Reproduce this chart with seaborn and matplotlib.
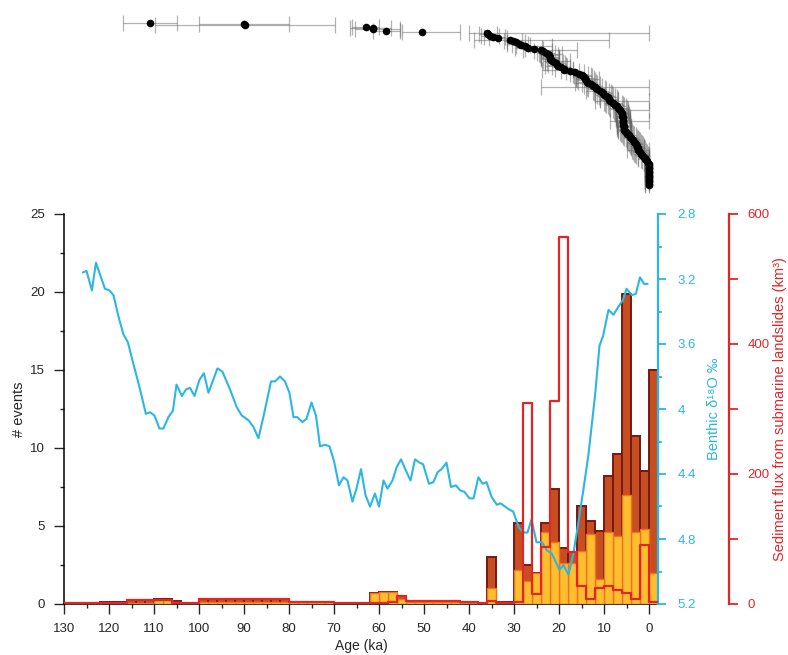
import numpy as np
import matplotlib
matplotlib.use("Agg")
import matplotlib.pyplot as plt
from matplotlib.ticker import MultipleLocator
import seaborn as sns

# ---------------- data ----------------
# 2-ka bins (centre age, ka)
bin_center = [129, 127, 125, 123, 121, 119, 117, 115, 113, 111,
              109, 107, 105, 103, 101, 99, 97, 95, 93, 91,
              89, 87, 85, 83, 81, 79, 77, 75, 73, 71,
              69, 67, 65, 63, 61, 59, 57, 55, 53, 51,
              49, 47, 45, 43, 41, 39, 37, 35, 33, 31,
              29, 27, 25, 23, 21, 19, 17, 15, 13, 11,
              9, 7, 5, 3, 1, -1]

# total number of events per bin
events_total = [0.05, 0.05, 0.05, 0.05, 0.1, 0.1, 0.15, 0.25, 0.25, 0.25,
                0.3, 0.3, 0.2, 0.05, 0.05, 0.3, 0.3, 0.3, 0.3, 0.3,
                0.3, 0.3, 0.3, 0.3, 0.3, 0.15, 0.15, 0.15, 0.15, 0.15,
                0.05, 0.05, 0.05, 0.05, 0.7, 0.75, 0.8, 0.5, 0.15, 0.15,
                0.15, 0.15, 0.15, 0.15, 0.1, 0.1, 0.05, 3.0, 0.15, 0.1,
                5.2, 2.5, 2.0, 5.2, 7.4, 3.6, 3.35, 6.3, 5.3, 4.7,
                8.2, 9.6, 19.9, 10.8, 8.5, 15.0]

# subset of events (yellow)
events_sub = [0.03, 0.03, 0.03, 0.03, 0.03, 0.03, 0.03, 0.08, 0.08, 0.08,
              0.25, 0.25, 0.1, 0.03, 0.03, 0.1, 0.1, 0.1, 0.1, 0.1,
              0.1, 0.1, 0.1, 0.1, 0.1, 0.1, 0.1, 0.1, 0.1, 0.1,
              0.03, 0.03, 0.03, 0.03, 0.7, 0.75, 0.8, 0.3, 0.12, 0.12,
              0.12, 0.12, 0.12, 0.12, 0.08, 0.08, 0.03, 1.05, 0.1, 0.08,
              2.2, 1.5, 2.0, 4.6, 4.0, 2.6, 2.6, 3.4, 4.5, 1.6,
              4.6, 4.35, 7.0, 4.6, 4.8, 2.0]

# sediment flux from submarine landslides (km3)
flux = [1, 1, 1, 1, 1, 1, 1, 6, 6, 6,
        6, 6, 1, 1, 1, 8, 8, 8, 8, 8,
        8, 8, 8, 8, 8, 3, 3, 3, 3, 3,
        1, 1, 1, 1, 2, 2, 3, 12, 4, 4,
        4, 4, 4, 4, 3, 3, 1, 5, 2, 2,
        3, 310, 16, 88, 312, 565, 80, 28, 7, 25,
        28, 21.5, 16.5, 7, 91, 3.5]

# benthic d18O stack
d18o_age = [125.8, 125.0, 123.8, 122.9, 120.9, 119.9, 119.0, 117.9, 116.8, 115.8,
            114.6, 113.1, 111.8, 110.9, 109.9, 108.8, 107.9, 106.8, 105.8, 105.0,
            103.8, 102.9, 102.0, 101.0, 99.9, 98.9, 97.9, 95.9, 94.8, 93.1,
            91.6, 90.5, 89.0, 87.9, 86.8, 85.7, 84.0, 83.1, 82.0, 80.9,
            79.9, 79.0, 78.2, 77.0, 76.1, 75.0, 74.0, 73.1, 72.0, 71.0,
            70.0, 68.9, 67.9, 67.0, 65.9, 65.0, 64.0, 63.0, 62.0, 60.9,
            60.0, 59.0, 58.1, 57.0, 56.1, 55.1, 54.0, 53.0, 52.0, 51.0,
            50.2, 48.9, 47.9, 47.0, 46.1, 45.0, 44.0, 42.9, 42.0, 41.0,
            39.9, 39.0, 37.9, 37.0, 36.1, 35.0, 33.8, 33.0, 32.0, 31.0,
            30.2, 28.9, 27.8, 27.0, 26.1, 25.0, 23.8, 22.7, 21.6, 20.9,
            19.9, 19.0, 17.9, 16.8, 15.7, 14.6, 13.5, 12.0, 11.0, 10.2,
            9.0, 7.9, 6.8, 5.8, 5.0, 3.8, 2.9, 2.0, 1.1, 0.3]
d18o = [3.16, 3.15, 3.27, 3.10, 3.26, 3.27, 3.30, 3.43, 3.54, 3.59,
        3.72, 3.88, 4.03, 4.02, 4.04, 4.12, 4.12, 4.05, 4.01, 3.85,
        3.92, 3.88, 3.87, 3.92, 3.82, 3.78, 3.90, 3.75, 3.77, 3.88,
        3.99, 4.04, 4.07, 4.11, 4.18, 4.05, 3.83, 3.83, 3.80, 3.83,
        3.90, 4.05, 4.05, 4.08, 4.06, 3.96, 4.04, 4.23, 4.22, 4.23,
        4.32, 4.47, 4.42, 4.44, 4.57, 4.49, 4.37, 4.53, 4.60, 4.52,
        4.60, 4.44, 4.49, 4.44, 4.36, 4.31, 4.38, 4.44, 4.31, 4.33,
        4.34, 4.46, 4.45, 4.39, 4.37, 4.33, 4.48, 4.47, 4.50, 4.51,
        4.55, 4.55, 4.42, 4.46, 4.45, 4.54, 4.59, 4.58, 4.60, 4.62,
        4.63, 4.73, 4.76, 4.76, 4.68, 4.82, 4.82, 4.87, 4.89, 4.93,
        4.99, 4.96, 5.02, 4.89, 4.70, 4.50, 4.29, 3.92, 3.61, 3.55,
        3.39, 3.42, 3.37, 3.33, 3.26, 3.30, 3.29, 3.19, 3.23, 3.23]

# individual dated events (oldest first) with age uncertainty (ka)
event_age = [110.9, 90.0, 89.8, 63.0, 61.4, 61.3, 58.4, 50.5, 36.1, 35.8,
             35.3, 34.6, 33.5, 31.0, 30.3, 29.6, 29.0, 28.5, 27.6, 26.8,
             25.5, 24.1, 23.5, 23.0, 22.4, 22.2, 22.1, 22.0, 21.9, 21.5,
             21.2, 20.7, 20.4, 20.2, 19.5, 19.0, 18.8, 17.5, 16.4, 15.5,
             14.8, 14.6, 14.3, 14.2, 14.0, 13.8, 13.5, 12.8, 12.5, 12.0,
             11.8, 11.6, 11.0, 10.5, 10.3, 10.0, 9.6, 9.2, 9.0, 8.8,
             8.7, 8.0, 7.8, 7.5, 7.2, 6.8, 6.6, 6.4, 6.2, 6.1,
             6.0, 5.9, 5.8, 5.8, 5.8, 5.7, 5.7, 5.7, 5.7, 5.6,
             5.6, 5.6, 5.5, 5.3, 5.0, 4.8, 4.5, 4.2, 4.0, 3.7,
             3.5, 3.3, 3.1, 2.9, 2.7, 2.6, 2.5, 2.4, 2.2, 2.0,
             1.8, 1.6, 1.3, 1.0, 0.9, 0.6, 0.4, 0.2, 0.1, 0.09,
             0.08, 0.08, 0.07, 0.07, 0.06, 0.06, 0.05, 0.05, 0.05, 0.04,
             0.04, 0.03, 0.03, 0.02, 0.02]
err_young = [6, 10, 20, 3, 4, 6, 3, 8.5, 36.1, 2,
             2, 2.5, 2, 22, 2, 2, 2, 2, 6, 3,
             2, 8, 2, 2, 3, 2, 2, 2, 2, 4,
             2, 2, 2, 2, 2, 2, 2, 2, 2, 2,
             2, 2, 2, 3, 2, 2, 2, 2, 2, 12,
             2, 2, 2, 2, 2, 2, 2, 2, 2, 2,
             8.7, 2, 2, 2, 2, 2, 2, 6.4, 1.5, 1.5,
             1.5, 1.5, 1.5, 1.5, 1.5, 5.7, 1.5, 1.5, 1.5, 1.5,
             1.5, 1.5, 1.5, 1.5, 1.5, 1.5, 1.5, 1.5, 1.5, 1.5,
             1.5, 1.5, 1.5, 1.5, 1.5, 1.5, 1.5, 2.4, 1.5, 1.5,
             1.5, 1.5, 1.3, 1.0, 0.9, 0.6, 0.4, 0.2, 0.1, 0.09,
             0.08, 0.08, 0.07, 0.07, 0.06, 0.06, 0.05, 0.05, 0.05, 0.04,
             0.04, 0.03, 0.03, 0.02, 0.02]
err_old = [6, 10, 20, 3, 5, 4, 3, 4.5, 4, 2,
           2, 2, 2, 8, 2, 2, 2.5, 2, 2, 3,
           2, 4, 2, 2, 2, 2, 2, 2, 2, 2,
           2, 2, 2, 3, 2, 2, 5, 2, 2, 2,
           2, 2, 2, 2, 2, 2, 3, 2, 2, 12,
           2, 2, 3, 2, 2, 2, 2, 2, 2, 2,
           3.3, 2, 2, 2, 2, 2, 2, 1.5, 1.5, 1.5,
           1.5, 1.5, 1.5, 1.5, 1.5, 3.0, 1.5, 1.5, 1.5, 1.5,
           1.5, 1.5, 1.5, 1.5, 1.5, 1.5, 1.5, 1.5, 1.5, 1.5,
           1.5, 1.5, 1.5, 1.5, 1.5, 1.5, 1.5, 2.6, 1.5, 1.5,
           1.5, 1.5, 1.5, 1.5, 1.5, 1.2, 1.2, 1.0, 1.0, 0.8,
           0.8, 0.8, 0.8, 0.8, 0.8, 0.8, 0.8, 0.8, 0.8, 0.8,
           0.8, 0.8, 0.8, 0.8, 0.8]

x_ticks = [130, 120, 110, 100, 90, 80, 70, 60, 50, 40, 30, 20, 10, 0]

# ---------------- style ----------------
BROWN = "#C64F22"
MAROON = "#7A1712"
YELLOW = "#FDBF2F"
ORANGE = "#F2711F"
RED = "#E42528"
BLUE = "#2DB6E1"

sns.set_style("ticks")
plt.rcParams['font.family'] = ['Liberation Sans', 'DejaVu Sans']
plt.rcParams['font.size'] = 9.5

W, H = 788, 655
fig = plt.figure(figsize=(W / 100, H / 100), dpi=100)
L, R, T, B = 64, 658, 214, 604
ax = fig.add_axes([L / W, 1 - B / H, (R - L) / W, (B - T) / H])
ax_top = fig.add_axes([L / W, 1 - 195 / H, (R - L) / W, 185 / H])
ax_blue = ax.twinx()
ax_red = ax.twinx()

# ---------------- histogram bars ----------------
sns.histplot(x=bin_center, weights=events_total, binwidth=2, binrange=(-2, 130),
             color=BROWN, edgecolor=MAROON, linewidth=1.4, alpha=1, ax=ax, zorder=2)
sns.histplot(x=bin_center, weights=events_sub, binwidth=2, binrange=(-2, 130),
             color=YELLOW, edgecolor=ORANGE, linewidth=1.0, alpha=1, ax=ax, zorder=3)

# ---------------- d18O ----------------
sns.lineplot(x=d18o_age, y=d18o, ax=ax_blue, color=BLUE, linewidth=1.5,
             sort=False, estimator=None)

# ---------------- sediment flux ----------------
sns.histplot(x=bin_center, weights=flux, binwidth=2, binrange=(-2, 130),
             element="step", fill=False, color=RED, linewidth=1.6, ax=ax_red)

# ---------------- axes formatting ----------------
ax.set_xlim(130, -2)
ax.set_ylim(0, 25)
ax.set_xticks(x_ticks)
ax.xaxis.set_minor_locator(MultipleLocator(5))
ax.yaxis.set_major_locator(MultipleLocator(5))
ax.yaxis.set_minor_locator(MultipleLocator(2.5))
ax.set_xlabel("Age (ka)", fontsize=10, labelpad=3)
ax.set_ylabel("# events", fontsize=10.5, labelpad=3)
ax.tick_params(which="major", direction="out", length=7.5, width=1, pad=6, labelsize=9.5)
ax.tick_params(which="minor", direction="out", length=3, width=1)
ax.tick_params(axis="y", which="major", pad=6)
for s in ["top", "right"]:
    ax.spines[s].set_visible(False)
for s in ["left", "bottom"]:
    ax.spines[s].set_linewidth(1.1)
    ax.spines[s].set_color("black")

ax_blue.set_ylim(5.2, 2.8)
ax_blue.set_yticks([2.8, 3.2, 3.6, 4.0, 4.4, 4.8, 5.2])
ax_blue.set_yticklabels(["2.8", "3.2", "3.6", "4", "4.4", "4.8", "5.2"])
ax_blue.yaxis.set_minor_locator(MultipleLocator(0.2))
ax_blue.tick_params(which="major", direction="out", length=6, width=1.3,
                    color=BLUE, labelcolor=BLUE, pad=8, labelsize=9.5)
ax_blue.tick_params(which="minor", direction="out", length=3, width=1.3, color=BLUE)
ax_blue.set_ylabel("Benthic δ¹⁸O ‰", color=BLUE, fontsize=10.5, labelpad=8)
for s in ["top", "left", "bottom"]:
    ax_blue.spines[s].set_visible(False)
ax_blue.spines["right"].set_color(BLUE)
ax_blue.spines["right"].set_linewidth(1.6)

ax_red.set_ylim(0, 600)
ax_red.yaxis.set_major_locator(MultipleLocator(200))
ax_red.yaxis.set_minor_locator(MultipleLocator(100))
ax_red.spines["right"].set_position(("axes", (729 - L) / (R - L)))
ax_red.tick_params(which="major", direction="out", length=6.5, width=1.3,
                   color=RED, labelcolor=RED, pad=7, labelsize=9.5)
ax_red.tick_params(which="minor", direction="out", length=6.5, width=1.3, color=RED)
ax_red.set_ylabel("Sediment flux from submarine landslides (km³)", color=RED,
                  fontsize=10.5, labelpad=2)
for s in ["top", "left", "bottom"]:
    ax_red.spines[s].set_visible(False)
ax_red.spines["right"].set_color(RED)
ax_red.spines["right"].set_linewidth(1.6)
ax_red.set_xlim(130, -2)

# ---------------- top panel: dated events ----------------
rank = np.arange(len(event_age))
ax_top.errorbar(event_age, rank, xerr=[err_young, err_old], fmt="none",
                ecolor="0.4", elinewidth=0.9, capsize=6, capthick=0.9, alpha=0.5)
sns.scatterplot(x=event_age, y=rank, color="black", s=30, linewidth=0,
                ax=ax_top, zorder=3)
n = len(event_age)
px_per = (185 - 22.7) / (n - 1)
ax_top.set_ylim((n - 1) + 10 / px_per, -12.7 / px_per)
ax_top.set_xlim(130, -2)
ax_top.axis("off")

fig.savefig("out.png", dpi=100)
